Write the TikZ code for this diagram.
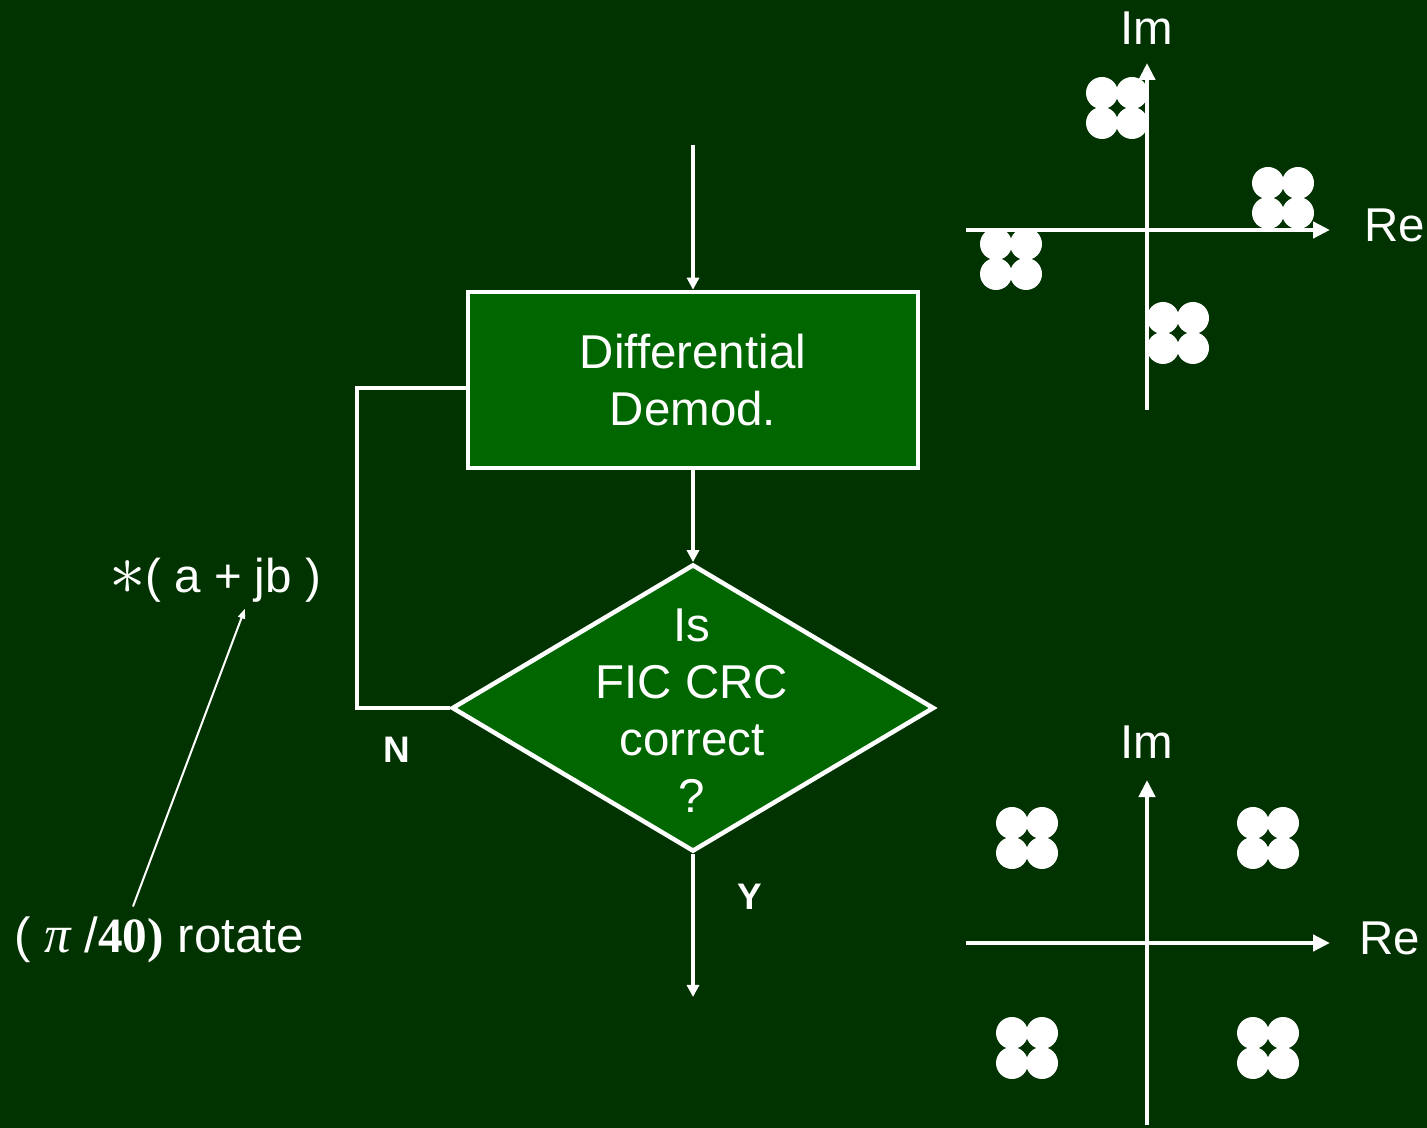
\documentclass[tikz,border=0pt]{standalone}
\usepackage{fontspec}
\setmainfont{Liberation Sans}
\newfontfamily\serifrm{Liberation Serif}
\usetikzlibrary{arrows.meta,shapes.geometric}
\definecolor{board}{HTML}{003300}
\definecolor{blockfill}{HTML}{006600}

\begin{document}
\begin{tikzpicture}[
  x=0.01cm,y=-0.01cm,
  flow/.style={draw=white,line width=0.045cm},
  ar/.style={flow,-{Triangle[length=0.12cm,width=0.12cm]}},
  axis/.style={draw=white,line width=0.045cm,-{Triangle[length=0.17cm,width=0.16cm]}},
  thinar/.style={draw=white,line width=0.02cm,-{Triangle[length=0.1cm,width=0.07cm]}},
  blk/.style={flow,fill=blockfill,minimum width=4.5cm,minimum height=1.76cm,
              align=center,text=white,font=\fontsize{13.5}{16}\selectfont},
  dec/.style={flow,diamond,fill=blockfill,minimum width=4.82cm,minimum height=2.87cm,inner sep=0pt},
  txt/.style={text=white,align=center,font=\fontsize{13.5}{16.2}\selectfont},
  yn/.style={text=white,font=\fontsize{10.5}{12}\selectfont\bfseries}
]
% background and page size
\fill[board] (0,0) rectangle (1427,1128);
\useasboundingbox (0,0) rectangle (1427,1128);

% flow chart
\coordinate (in) at (693,145);
\coordinate (out) at (693,997);
\coordinate (loopc) at (357,388);
\node[blk] (demod) at (693,380) {Differential\\Demod.};
\node[dec] (crc) at (693,708) {};
\node[txt] (crctext) at (692,711) {Is\\FIC CRC\\correct\\?};

\draw[ar] (in) -- (demod);
\draw[ar] (demod) -- (crc);
\draw[flow] (crc.west) -| (loopc) -- (demod.west |- loopc);
\draw[ar] (crc.south) -- (out);

\node[yn] (no) at (397,750) {N};
\node[yn] (yes) at (750,897) {Y};

% rotation note
\node[txt] (mul) at (215,580) {\raisebox{-0.1ex}{\fontsize{21}{21}\selectfont$\ast$}( a + jb )};
\node[txt,font=\fontsize{14}{16}\selectfont] (rot) at (159,940) {( {\serifrm\itshape\fontsize{15}{16}\selectfont π} /{\serifrm\bfseries 40)} rotate};
\draw[thinar] ([xshift=-0.26cm,yshift=-0.02cm]rot.north) -- ([xshift=0.3cm,yshift=0.06cm]mul.south);

% constellations
\foreach \cx/\cy in {1117/108,1283/198,1011/259,1178/333,1027/838,1268/838,1027/1048,1268/1048}
  \foreach \dx/\dy in {-15/-15,15/-15,-15/15,15/15}
    \fill[white] (\cx+\dx,\cy+\dy) circle (16);

% upper axes (before correction)
\coordinate (re1a) at (966,230);
\coordinate (re1b) at (1330,230);
\coordinate (im1a) at (1147,410);
\coordinate (im1b) at (1147,63);
\draw[axis] (re1a) -- (re1b);
\draw[axis] (im1a) -- (im1b);
\node[txt] (im1) at (1147,28) {Im};
\node[txt] (re1) at (1395,225) {Re};

% lower axes (after correction)
\coordinate (re2a) at (966,943);
\coordinate (re2b) at (1330,943);
\coordinate (im2a) at (1147,1125);
\coordinate (im2b) at (1147,780);
\draw[axis] (re2a) -- (re2b);
\draw[axis] (im2a) -- (im2b);
\node[txt] (im2) at (1147,742) {Im};
\node[txt] (re2) at (1390,938) {Re};
\end{tikzpicture}
\end{document}
